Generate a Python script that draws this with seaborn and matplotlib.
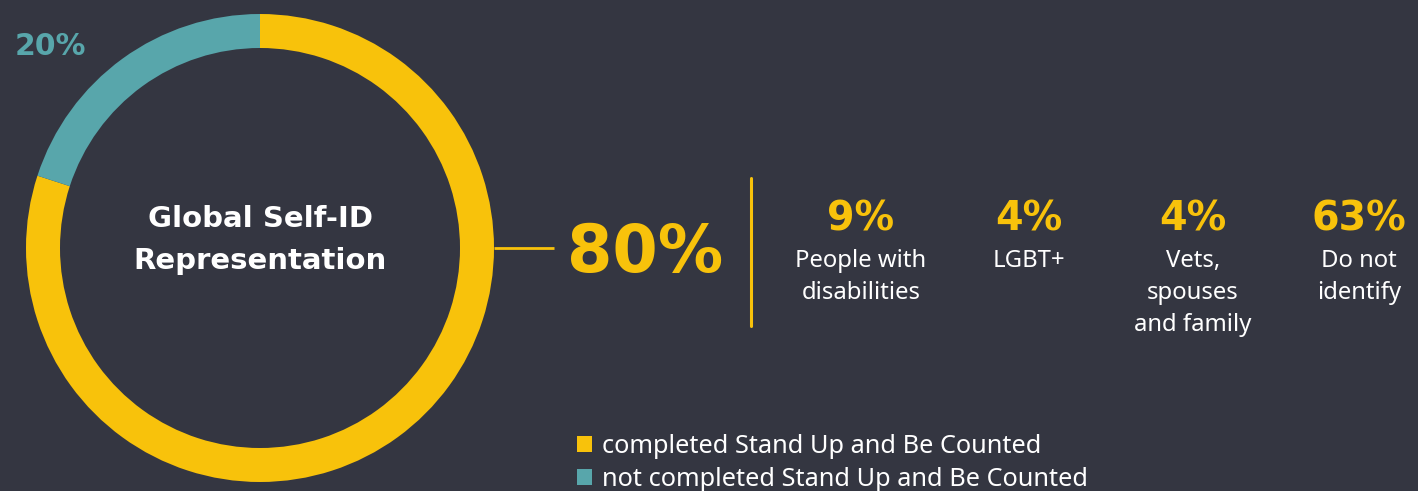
import matplotlib
matplotlib.use("Agg")
import matplotlib.pyplot as plt
import seaborn as sns

# data
donut_labels = ["completed Stand Up and Be Counted", "not completed Stand Up and Be Counted"]
donut_values = [80, 20]
donut_title = "Global Self-ID\nRepresentation"
stat_values = ["9%", "4%", "4%", "63%"]
stat_labels = ["People with\ndisabilities", "LGBT+", "Vets,\nspouses\nand family", "Do not\nidentify"]

BG = "#343641"
YELLOW = "#F8C20B"
TEAL = "#58A6AB"
W, H = 1418, 491
BOLD = ["DejaVu Sans"]

sns.set_theme(style="dark", rc={"axes.facecolor": BG, "figure.facecolor": BG})
plt.rcParams["font.family"] = ["Noto Sans", "DejaVu Sans"]


def Y(y):
    # pixel row from the top -> data y
    return H - y


fig = plt.figure(figsize=(W / 100, H / 100), dpi=100)
ax = fig.add_axes([0, 0, 1, 1])
ax.set_xlim(0, W)
ax.set_ylim(0, H)
ax.set_aspect("equal")
ax.axis("off")

cx, cy, r = 260, Y(248), 234
wedges, _ = ax.pie(donut_values, colors=[YELLOW, TEAL], startangle=90, counterclock=False,
                   center=(cx, cy), radius=r, wedgeprops=dict(width=34, linewidth=0))
ax.set_xlim(0, W)
ax.set_ylim(0, H)

ax.text(cx, Y(240), donut_title, ha="center", va="center", color="white",
        fontsize=21, fontweight="bold", family=BOLD, linespacing=1.62)
ax.text(15, Y(46), f"{donut_values[1]}%", ha="left", va="center", color=TEAL,
        fontsize=21.5, fontweight="bold", family=BOLD)

# connector + main number
ax.plot([cx + r, 554], [cy, cy], color=YELLOW, lw=2, solid_capstyle="butt")
ax.text(567, Y(254), f"{donut_values[0]}%", ha="left", va="center", color=YELLOW,
        fontsize=47, fontweight="bold", family=BOLD)
ax.plot([751, 751], [Y(178), Y(326)], color=YELLOW, lw=2.2)

col_x = [861, 1029, 1193, 1359]
for x, v, lab in zip(col_x, stat_values, stat_labels):
    ax.text(x, Y(219), v, ha="center", va="center", color=YELLOW, fontsize=28.5,
            fontweight="bold", family=BOLD)
    ax.text(x, Y(249), lab, ha="center", va="top", color="white", fontsize=17.2, linespacing=1.44)

leg = ax.legend(wedges, donut_labels, loc="upper left", bbox_to_anchor=(577 / W, 1 - 434 / H),
                frameon=False, fontsize=18.2, handlelength=0.58, handleheight=0.58,
                handletextpad=0.4, labelspacing=0.32, borderpad=0, borderaxespad=0)
for t in leg.get_texts():
    t.set_color("white")

fig.savefig("out.png", dpi=100, facecolor=BG)
